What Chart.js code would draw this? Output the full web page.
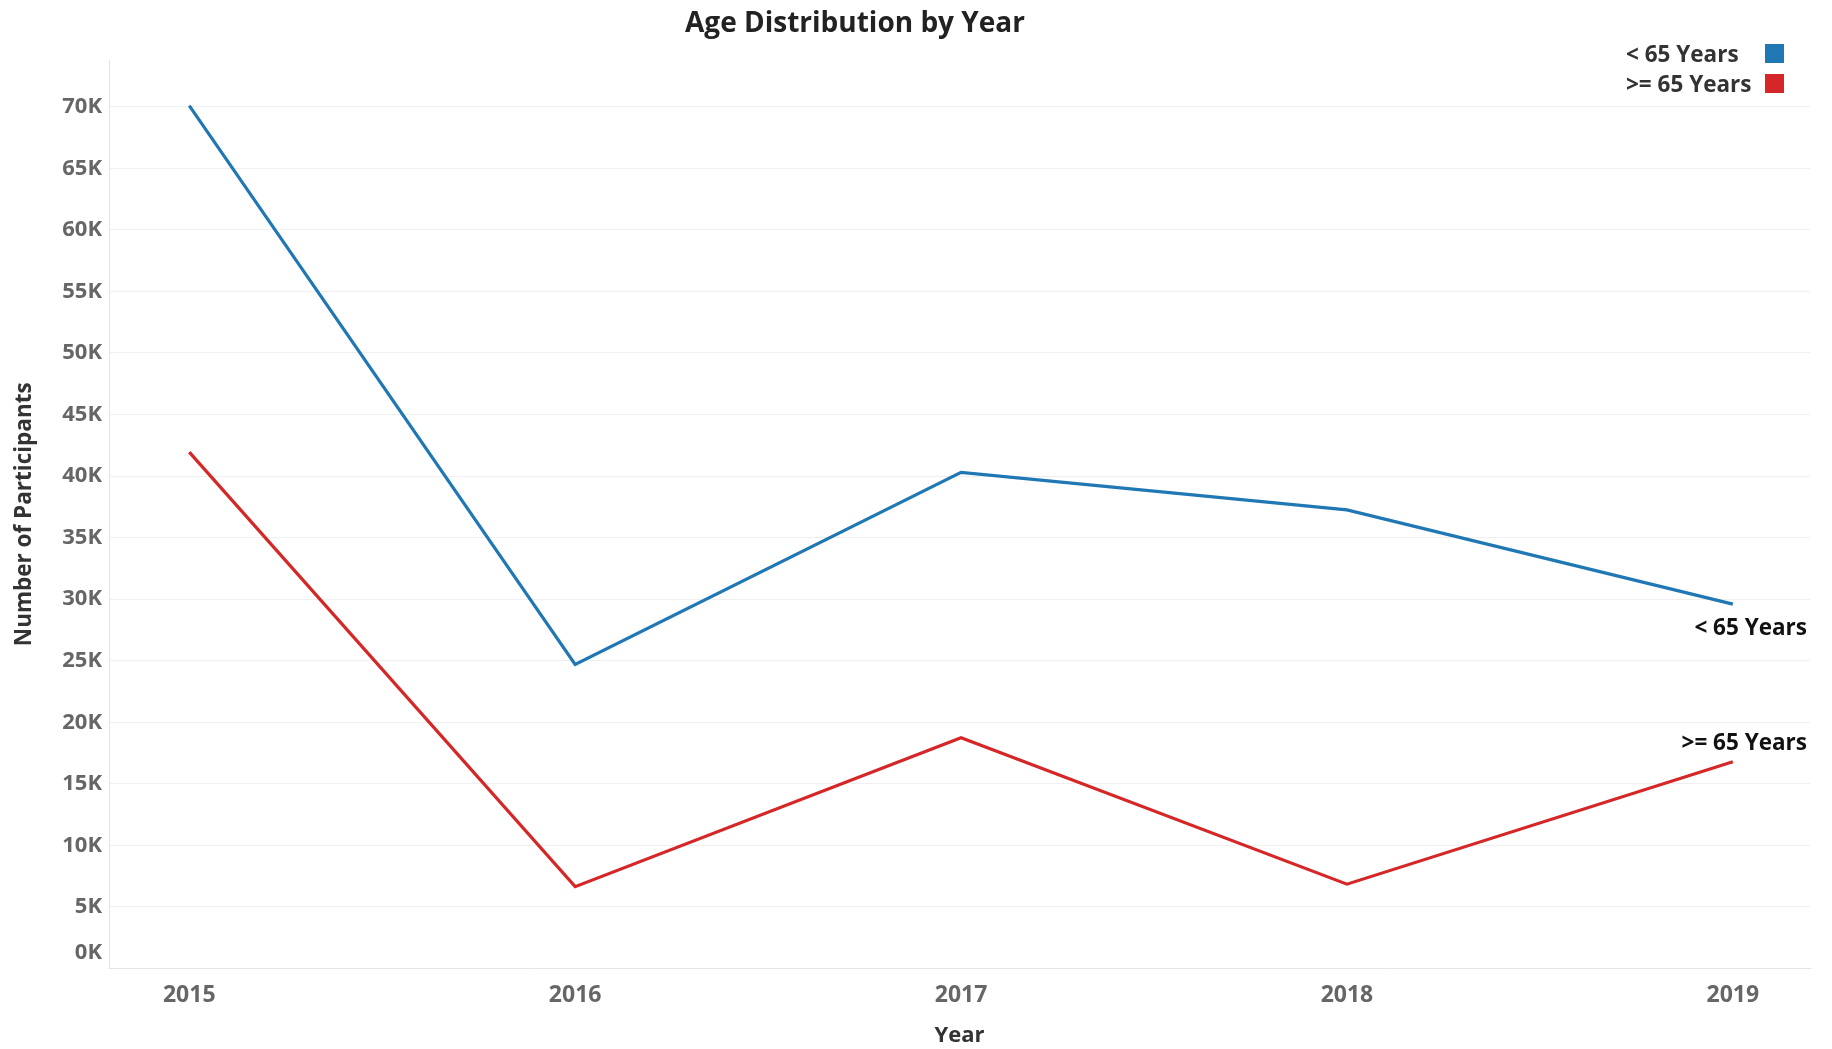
<!DOCTYPE html>
<html>
<head>
<meta charset="utf-8">
<script src="https://cdn.jsdelivr.net/npm/chart.js@4/dist/chart.umd.min.js"></script>
<style>
html,body{margin:0;padding:0;background:#fff;}
#wrap{position:relative;width:1832px;height:1049px;overflow:hidden;}
canvas{position:absolute;left:0;top:0;}
.txt{position:absolute;font-family:"Open Sans",sans-serif;font-weight:700;line-height:1.362;white-space:nowrap;}
#title{left:0;width:1710px;top:2px;text-align:center;font-size:28px;color:#222;}
.leg{font-size:22.5px;color:#333;left:1626px;}
.sw{position:absolute;width:19px;height:19px;left:1765px;}
</style>
</head>
<body>
<div id="wrap">
  <canvas id="c" width="1832" height="1049"></canvas>
  <div id="title" class="txt">Age Distribution by Year</div>
  <div class="txt leg" style="top:39px">&lt; 65 Years</div>
  <div class="sw" style="top:44px;background:#1f77b4"></div>
  <div class="txt leg" style="top:69px">&gt;= 65 Years</div>
  <div class="sw" style="top:74px;background:#d62728"></div>
</div>
<script>
// ---- data ----
const years = [2015, 2016, 2017, 2018, 2019];
const under65 = [70100, 24700, 40300, 37250, 29600];
const over65 = [41950, 6650, 18750, 6850, 16800];
const seriesNames = ['< 65 Years', '>= 65 Years'];
const seriesColors = ['#1f77b4', '#d62728'];
const yTickValues = [0, 5000, 10000, 15000, 20000, 25000, 30000, 35000, 40000, 45000, 50000, 55000, 60000, 65000, 70000];

const toPoints = vals => years.map((yr, i) => ({x: yr, y: vals[i]}));

const endLabels = {
  id: 'endLabels',
  afterDatasetsDraw(chart) {
    const ctx = chart.ctx;
    const area = chart.chartArea;
    ctx.save();
    ctx.font = 'bold 22.5px "Open Sans", sans-serif';
    ctx.fillStyle = '#111';
    ctx.textAlign = 'right';
    ctx.textBaseline = 'alphabetic';
    const m0 = chart.getDatasetMeta(0).data;
    const m1 = chart.getDatasetMeta(1).data;
    const p0 = m0[m0.length - 1];
    const p1 = m1[m1.length - 1];
    ctx.fillText(seriesNames[0], area.right - 3, p0.y + 31);
    ctx.fillText(seriesNames[1], area.right - 3, p1.y - 12);
    // zero label, lifted inside the pane
    const ys = chart.scales.y;
    ctx.font = 'bold 22px "Open Sans", sans-serif';
    ctx.fillStyle = '#666';
    ctx.textBaseline = 'middle';
    ctx.fillText('0K', ys.right - 7, ys.getPixelForValue(0) - 16);
    ctx.restore();
  }
};

new Chart(document.getElementById('c'), {
  type: 'line',
  data: {
    datasets: [
      {label: seriesNames[0], data: toPoints(under65), borderColor: seriesColors[0], backgroundColor: seriesColors[0], borderWidth: 3.2, pointRadius: 0, tension: 0},
      {label: seriesNames[1], data: toPoints(over65), borderColor: seriesColors[1], backgroundColor: seriesColors[1], borderWidth: 3.2, pointRadius: 0, tension: 0}
    ]
  },
  options: {
    responsive: false,
    animation: false,
    devicePixelRatio: 1,
    layout: {padding: {top: 60, right: 22, bottom: 0, left: 0}},
    plugins: {legend: {display: false}, tooltip: {enabled: false}, title: {display: false}},
    scales: {
      x: {
        type: 'linear',
        min: 2014.792,
        max: 2019.2,
        afterBuildTicks: s => { s.ticks = years.map(v => ({value: v})); },
        afterFit: s => { s.height = 80.5; },
        grid: {display: false},
        border: {display: true, color: '#e4e4e4'},
        ticks: {
          callback: v => String(v),
          color: '#666',
          font: {family: 'Open Sans', weight: 'bold', size: 23},
          padding: 5,
          maxRotation: 0
        },
        title: {display: true, text: 'Year', color: '#333', font: {family: 'Open Sans', weight: 'bold', size: 22}, padding: {top: 0, bottom: 0}}
      },
      y: {
        min: 0,
        max: 73800,
        afterBuildTicks: s => { s.ticks = yTickValues.map(v => ({value: v})); },
        afterFit: s => { s.width = 109; },
        grid: {color: '#efefef', lineWidth: 1, drawTicks: false},
        border: {display: true, color: '#e4e4e4'},
        ticks: {
          callback: v => (v === 0 ? '' : (v / 1000) + 'K'),
          color: '#666',
          font: {family: 'Open Sans', weight: 'bold', size: 22},
          padding: 7
        },
        title: {display: true, text: 'Number of Participants', color: '#333', font: {family: 'Open Sans', weight: 'bold', size: 22.5}, padding: {top: 11, bottom: 0}}
      }
    }
  },
  plugins: [endLabels]
});
</script>
</body>
</html>
